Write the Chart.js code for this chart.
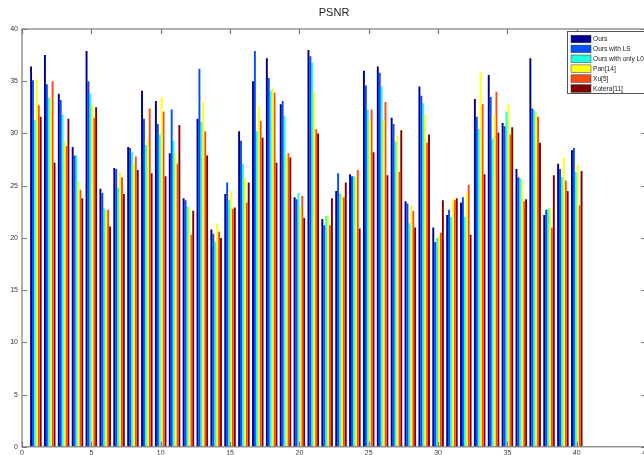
<!DOCTYPE html>
<html>
<head>
<meta charset="utf-8">
<script src="https://cdn.jsdelivr.net/npm/chart.js@4/dist/chart.umd.min.js"></script>
<style>
  html, body { margin: 0; padding: 0; background: #fff; overflow: hidden; }
  #wrap { position: absolute; left: 0; top: 0; }
</style>
</head>
<body>
<div id="wrap"><canvas id="psnr" width="652" height="455"></canvas></div>
<script>
// image index 1..40
const imagenes = Array.from({ length: 40 }, (_, i) => i + 1);

const ours = [36.4, 37.5, 33.8, 28.7, 37.9, 24.7, 26.7, 28.7, 34.1, 33.1,
  28.1, 23.8, 31.4, 20.8, 24.2, 30.2, 35.0, 37.2, 32.8, 23.9,
  38.0, 21.8, 24.5, 26.1, 36.0, 36.4, 31.5, 23.5, 34.5, 21.0,
  22.2, 23.4, 33.3, 35.6, 31.0, 26.6, 37.2, 22.2, 27.1, 28.4];
const oursLS = [35.1, 34.7, 33.2, 27.9, 35.0, 24.3, 26.6, 28.6, 31.4, 30.9,
  32.3, 23.6, 36.2, 20.4, 25.3, 29.3, 37.9, 35.3, 33.1, 23.7,
  37.4, 21.2, 26.2, 25.9, 34.6, 35.8, 30.9, 23.3, 33.6, 19.6,
  22.7, 23.9, 31.6, 33.5, 30.7, 25.8, 32.4, 22.7, 26.6, 28.6];
const oursL0 = [31.3, 33.4, 31.8, 27.9, 33.8, 22.8, 24.8, 28.2, 28.9, 29.9,
  29.3, 23.0, 31.1, 19.6, 23.6, 27.1, 30.2, 34.1, 31.7, 24.3,
  36.8, 22.1, 24.2, 25.9, 32.3, 34.5, 29.2, 21.4, 32.9, 20.0,
  22.0, 22.0, 30.4, 29.5, 32.1, 25.7, 32.2, 22.8, 25.8, 26.3];
const pan = [35.2, 33.4, 29.3, 25.4, 32.7, 22.7, 26.3, 27.1, 29.4, 33.5,
  28.1, 22.9, 33.0, 21.4, 24.5, 25.7, 32.6, 34.3, 27.9, 23.0,
  34.0, 22.2, 24.1, 25.8, 31.3, 31.3, 29.8, 23.1, 31.8, 20.2,
  23.7, 24.3, 35.9, 31.8, 32.8, 25.5, 32.0, 22.9, 27.7, 27.0];
const xu = [32.7, 35.0, 28.8, 24.6, 31.5, 22.7, 25.8, 27.8, 32.4, 32.1,
  27.1, 20.3, 30.2, 20.6, 22.8, 23.4, 31.2, 33.9, 28.1, 24.0,
  30.4, 21.2, 23.9, 26.5, 32.3, 33.0, 26.3, 22.6, 29.1, 20.5,
  23.6, 25.1, 32.8, 34.0, 29.9, 23.5, 31.6, 21.0, 25.5, 23.1];
const kotera = [31.6, 27.2, 31.4, 23.8, 32.5, 21.1, 24.2, 26.5, 26.2, 25.9,
  30.8, 22.6, 27.9, 20.0, 22.9, 25.3, 29.6, 27.2, 27.7, 21.9,
  30.0, 23.8, 25.3, 20.9, 28.2, 26.0, 30.3, 21.0, 29.9, 23.6,
  23.8, 20.3, 26.1, 30.1, 30.6, 23.7, 29.1, 26.0, 24.5, 26.4];

const nombres = ['Ours', 'Ours with LS', 'Ours with only L0', 'Pan[14]', 'Xu[5]', 'Kotera[11]'];
const series = [ours, oursLS, oursL0, pan, xu, kotera];
const colores = ['#00008f', '#0050ff', '#20ffdf', '#ffff10', '#ff4a10', '#800000'];

const xTicks = [0, 5, 10, 15, 20, 25, 30, 35, 40, 45];
const yTicks = [0, 5, 10, 15, 20, 25, 30, 35, 40];

const fuente = 'Arial, "Liberation Sans", sans-serif';

// caja estilo matlab con marcas hacia dentro y leyenda dentro del area
const cajaMatlab = {
  id: 'cajaMatlab',
  afterDraw(chart) {
    const { ctx, chartArea: a, scales } = chart;
    ctx.save();
    ctx.strokeStyle = '#7a7a7a';
    ctx.lineWidth = 1.2;
    ctx.strokeRect(a.left, a.top, a.right - a.left, a.bottom - a.top);
    ctx.beginPath();
    xTicks.forEach(v => {
      const x = Math.round(scales.x.getPixelForValue(v)) + 0.5;
      ctx.moveTo(x, a.bottom); ctx.lineTo(x, a.bottom - 5);
      ctx.moveTo(x, a.top); ctx.lineTo(x, a.top + 5);
    });
    yTicks.forEach(v => {
      const y = Math.round(scales.y.getPixelForValue(v)) + 0.5;
      ctx.moveTo(a.left, y); ctx.lineTo(a.left + 5, y);
      ctx.moveTo(a.right, y); ctx.lineTo(a.right - 5, y);
    });
    ctx.stroke();

    // leyenda
    const lx = 567.5, ly = 31.5;
    ctx.fillStyle = '#fff';
    ctx.fillRect(lx, ly, 80, 62);
    ctx.strokeStyle = '#555';
    ctx.lineWidth = 1;
    ctx.strokeRect(lx, ly, 80, 62);
    ctx.font = '6.6px ' + fuente;
    ctx.textBaseline = 'middle';
    chart.data.datasets.forEach((ds, i) => {
      const cy = 39 + i * 9.9;
      ctx.fillStyle = ds.backgroundColor;
      ctx.fillRect(571, cy - 3.8, 20, 7.6);
      ctx.strokeStyle = '#333';
      ctx.lineWidth = 0.5;
      ctx.strokeRect(571, cy - 3.8, 20, 7.6);
      ctx.fillStyle = '#222';
      ctx.fillText(ds.label, 593, cy + 0.5);
    });
    ctx.restore();
  }
};

new Chart(document.getElementById('psnr'), {
  type: 'bar',
  data: {
    datasets: series.map((vals, i) => ({
      label: nombres[i],
      data: vals.map((v, j) => ({ x: imagenes[j], y: v })),
      backgroundColor: colores[i],
      borderWidth: 0,
      categoryPercentage: 0.83,
      barPercentage: 1.0
    }))
  },
  options: {
    responsive: false,
    animation: false,
    devicePixelRatio: 1,
    layout: { padding: { left: 0, right: 5, top: 0, bottom: 0 } },
    plugins: {
      legend: { display: false },
      tooltip: { enabled: false },
      title: {
        display: true,
        text: 'PSNR',
        fullSize: false,
        color: '#222',
        font: { family: fuente, size: 11, weight: 'normal', lineHeight: 1.2 },
        padding: { top: 6, bottom: 9.8 }
      }
    },
    scales: {
      x: {
        type: 'linear',
        min: 0,
        max: 45,
        offset: false,
        grid: { display: false, drawTicks: false },
        border: { display: false },
        afterBuildTicks: s => { s.ticks = xTicks.map(v => ({ value: v })); },
        afterFit: s => { s.height = 8; },
        ticks: {
          padding: 2,
          color: '#333',
          maxRotation: 0,
          font: { family: fuente, size: 7 }
        }
      },
      y: {
        min: 0,
        max: 40,
        grid: { display: false, drawTicks: false },
        border: { display: false },
        afterBuildTicks: s => { s.ticks = yTicks.map(v => ({ value: v })); },
        afterFit: s => { s.width = 22; },
        ticks: {
          padding: 4,
          color: '#333',
          font: { family: fuente, size: 7 }
        }
      }
    }
  },
  plugins: [cajaMatlab]
});
</script>
</body>
</html>
